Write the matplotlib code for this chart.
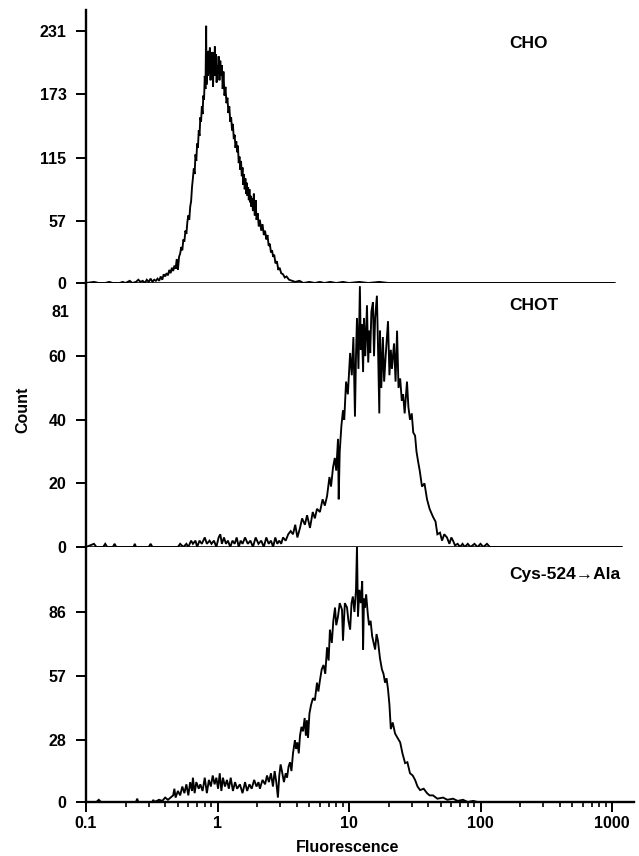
import matplotlib
matplotlib.use("Agg")
import matplotlib.pyplot as plt
from matplotlib.ticker import FixedLocator, FixedFormatter, LogLocator, NullFormatter, NullLocator

plt.rcParams['font.family'] = ['Liberation Sans', 'DejaVu Sans']
plt.rcParams['font.weight'] = 'bold'

# ---------------- data ----------------
panel_labels = ["CHO", "CHOT", "Cys-524\u2192Ala"]

cho_fluor = [0.100, 0.115, 0.125, 0.14, 0.15, 0.16, 0.18, 0.19, 0.20, 0.215, 0.225, 0.24, 0.25, 0.26, 0.27,
             0.28, 0.29, 0.30, 0.31, 0.32, 0.33, 0.34, 0.35, 0.36, 0.37, 0.38, 0.39, 0.40, 0.41, 0.42, 0.43,
             0.44, 0.45, 0.46, 0.47, 0.48, 0.49, 0.50, 0.51, 0.52, 0.53, 0.54, 0.55, 0.56, 0.57, 0.58, 0.59,
             0.60, 0.61, 0.62, 0.63, 0.64, 0.65, 0.66, 0.67, 0.68, 0.69, 0.70, 0.71, 0.72, 0.73, 0.74, 0.75,
             0.76, 0.77, 0.78, 0.79, 0.80, 0.81, 0.82, 0.825, 0.835, 0.845, 0.855, 0.865, 0.875, 0.885, 0.895,
             0.905, 0.915, 0.925, 0.935, 0.945, 0.955, 0.965, 0.975, 0.985, 0.995, 1.01, 1.02, 1.035, 1.05,
             1.065, 1.08, 1.095, 1.11, 1.13, 1.15, 1.17, 1.19, 1.21, 1.23, 1.25, 1.27, 1.29, 1.31, 1.33, 1.35,
             1.37, 1.39, 1.41, 1.43, 1.45, 1.47, 1.49, 1.51, 1.53, 1.55, 1.57, 1.59, 1.61, 1.63, 1.65, 1.67,
             1.69, 1.71, 1.73, 1.75, 1.77, 1.79, 1.81, 1.83, 1.86, 1.89, 1.92, 1.95, 1.98, 2.02, 2.06, 2.10,
             2.15, 2.20, 2.25, 2.30, 2.35, 2.40, 2.45, 2.50, 2.55, 2.60, 2.65, 2.70, 2.76, 2.83, 2.90, 2.97,
             3.05, 3.15, 3.25, 3.35, 3.5, 3.7, 3.9, 4.2, 4.5, 5.0, 5.5, 6.0, 6.5, 7.2, 8.0, 9.0, 10, 12, 14,
             17, 20, 1030]
cho_count = [0, 1, 0, 0, 1, 0, 0, 1, 0, 2, 0, 1, 3, 1, 2,
             0, 3, 1, 4, 1, 3, 2, 4, 2, 6, 3, 8, 6, 9, 7, 12,
             9, 14, 11, 16, 13, 22, 12, 24, 27, 33, 30, 40, 38, 48, 45, 56,
             62, 58, 70, 75, 88, 96, 105, 100, 118, 112, 128, 124, 140, 135, 152, 148,
             162, 155, 172, 168, 190, 178, 236, 182, 205, 190, 213, 192, 216, 186, 208,
             195, 212, 180, 205, 198, 217, 190, 210, 184, 200, 192, 208, 186, 204,
             190, 200, 178, 194, 172, 180, 165, 170, 156, 162, 148, 152, 140, 146, 132, 136,
             124, 130, 120, 126, 110, 116, 104, 112, 98, 106, 90, 100, 86, 96, 82, 92,
             80, 88, 76, 86, 74, 80, 70, 78, 66, 82, 62, 76, 58, 64, 52, 58,
             48, 54, 44, 48, 40, 44, 34, 36, 28, 30, 24, 26, 18, 20, 12, 14,
             9, 8, 5, 6, 3, 2, 1, 2, 0, 1, 0, 1, 0, 1, 0, 1, 0, 1, 0,
             1, 0, 0]

chot_fluor = [0.10, 0.115, 0.12, 0.135, 0.14, 0.145, 0.16, 0.165, 0.17, 0.23, 0.235, 0.24, 0.30, 0.31, 0.32,
              0.50, 0.52, 0.55, 0.58, 0.60, 0.63, 0.65, 0.68, 0.70, 0.73, 0.76, 0.80, 0.83, 0.87, 0.90, 0.94,
              0.98, 1.02, 1.05, 1.08, 1.12, 1.16, 1.20, 1.25, 1.30, 1.35, 1.40, 1.45, 1.50, 1.55, 1.62, 1.70,
              1.78, 1.86, 1.95, 2.05, 2.15, 2.25, 2.35, 2.45, 2.55, 2.65, 2.75, 2.85, 2.95, 3.05, 3.15, 3.30,
              3.45, 3.60, 3.75, 3.90, 4.05, 4.24, 4.40, 4.62, 4.80, 5.05, 5.30, 5.50, 5.71, 6.01, 6.30, 6.55,
              6.81, 7.10, 7.30, 7.56, 7.80, 8.0, 8.25, 8.35, 8.5, 8.75, 9.0, 9.2, 9.5, 9.8, 10.2, 10.5, 10.8,
              11.1, 11.3, 11.5, 11.8, 12.1, 12.3, 12.5, 12.8, 13.0, 13.3, 13.7, 14.0, 14.3, 14.5, 14.8, 15.2,
              15.5, 15.8, 16.3, 16.6, 17.0, 17.2, 17.6, 18.1, 18.5, 19.0, 19.8, 20.3, 20.8, 21.2, 22.0, 22.6,
              23.2, 23.8, 24.5, 25.2, 25.8, 26.5, 27.6, 28.3, 29.1, 30.0, 30.8, 31.8, 32.6, 33.5, 34.5, 35.9,
              37.5, 39.2, 41.0, 43.5, 45.5, 47.0, 49.2, 51.0, 53.0, 55.6, 58.0, 60.0, 61.8, 64.0, 67.0, 70.0,
              73.0, 76.0, 80.0, 84.0, 90.0, 95.0, 100, 105, 112, 118, 1170]
chot_count = [0, 1, 0, 0, 1, 0, 0, 1, 0, 0, 1, 0, 0, 1, 0,
              0, 1, 0, 1, 0, 2, 1, 2, 0, 2, 1, 3, 1, 2, 1, 2,
              0, 3, 4, 1, 3, 1, 2, 0, 2, 1, 3, 0, 2, 1, 3, 1,
              2, 0, 3, 1, 2, 0, 3, 1, 2, 0, 3, 1, 2, 1, 3, 2,
              4, 5, 4, 7, 3, 6, 9, 7, 10, 6, 11, 9, 12, 11, 15, 13,
              16, 22, 19, 25, 28, 24, 34, 15, 30, 38, 43, 40, 52, 48, 61, 54, 66,
              41, 60, 72, 56, 82, 62, 70, 55, 72, 60, 76, 58, 68, 61, 74, 77,
              60, 72, 79, 64, 42, 68, 50, 66, 52, 60, 71, 54, 62, 56, 64, 52,
              68, 50, 53, 46, 48, 42, 52, 44, 40, 42, 36, 35, 30, 27, 24, 19,
              20, 15, 12, 9.5, 8, 4, 4.5, 2, 4, 3, 1, 3, 2, 0.5, 1, 0,
              1, 0, 1, 0, 1, 0, 1, 0, 1, 0, 0]

cys_fluor = [0.100, 0.12, 0.125, 0.13, 0.24, 0.245, 0.25, 0.32, 0.325, 0.33, 0.36, 0.38, 0.40, 0.42, 0.44,
             0.46, 0.47, 0.48, 0.50, 0.52, 0.54, 0.56, 0.58, 0.60, 0.62, 0.64, 0.65, 0.67, 0.69, 0.72, 0.74,
             0.77, 0.80, 0.83, 0.86, 0.89, 0.92, 0.95, 0.98, 1.01, 1.04, 1.07, 1.10, 1.14, 1.18, 1.22, 1.26,
             1.31, 1.36, 1.41, 1.48, 1.55, 1.62, 1.68, 1.75, 1.82, 1.90, 1.98, 2.05, 2.10, 2.2, 2.3, 2.38,
             2.46, 2.55, 2.64, 2.72, 2.80, 2.88, 2.95, 3.02, 3.09, 3.2, 3.3, 3.38, 3.47, 3.56, 3.65, 3.75,
             3.88, 3.96, 4.05, 4.15, 4.24, 4.35, 4.47, 4.6, 4.7, 4.79, 4.88, 5.0, 5.15, 5.32, 5.5, 5.71,
             5.85, 6.01, 6.2, 6.4, 6.6, 6.81, 7.0, 7.16, 7.4, 7.6, 7.83, 8.0, 8.25, 8.5, 8.85, 9.0, 9.3,
             9.66, 9.9, 10.2, 10.45, 10.7, 11.0, 11.3, 11.5, 11.7, 12.0, 12.3, 12.6, 12.8, 13.0, 13.2, 13.5,
             13.9, 14.2, 14.6, 15.0, 15.4, 15.8, 16.2, 16.6, 17.2, 17.8, 18.3, 18.8, 19.3, 19.8, 20.3, 20.8,
             21.5, 22.4, 23.4, 24.5, 25.5, 26.7, 27.8, 29.1, 30.5, 31.8, 33.2, 34.7, 37.0, 39.2, 41.0, 43.5,
             47.0, 51.9, 56.0, 61.8, 67.0, 73.6, 80.0, 88.0, 95.0, 1470]
cys_count = [0, 0, 1, 0, 0, 1.5, 0, 0, 1, 0, 1, 0.5, 2, 1, 2,
             3, 6, 2, 5, 3, 7, 4, 8, 3, 9, 5, 11, 4, 9, 6, 8,
             5, 11, 4, 10, 7, 12, 8, 11, 6, 13, 5, 11, 7, 10, 6, 11,
             5, 9, 6, 8, 4, 9, 5, 8, 6, 10, 7, 9, 6, 10, 8, 12,
             9, 13, 7, 14, 9, 2, 12, 17, 14, 9, 13, 11, 16, 18, 14, 22,
             28, 24, 27, 22, 30, 34, 32, 38, 30, 37, 29, 40, 44, 47, 46, 54,
             50, 55, 60, 62, 58, 70, 64, 78, 72, 82, 88, 80, 84, 90, 87, 73, 90,
             88, 82, 78, 90, 93, 86, 96, 116, 84, 96, 90, 100, 69, 92, 88, 94,
             85, 80, 82, 75, 72, 69, 76, 73, 65, 60, 58, 54, 56, 51, 44, 33,
             36, 31, 29, 27, 22, 17.6, 18, 13, 12, 10, 7, 5.4, 6, 4, 3, 3,
             1.5, 2, 1, 1.5, 0.5, 1, 0, 0.5, 0, 0]

series = [(cho_fluor, cho_count), (chot_fluor, chot_count), (cys_fluor, cys_count)]

y_ticks = [[0, 57, 115, 173, 231], [0, 20, 40, 60], [0, 28, 57, 86]]
y_limits = [250.5, 83.0, 115.4]
x_tick_values = [0.1, 1, 10, 100, 1000]
x_tick_labels = ["0.1", "1", "10", "100", "1000"]

# ---------------- layout ----------------
W, H = 639, 856
fig = plt.figure(figsize=(W / 100, H / 100), dpi=100)

left_px, right_px = 86, 634
panel_px = [(10, 283), (283, 547), (547, 802)]
baseline_end_px = [614, 621, 634]
label_y_px = [43, 306, 575]

fs = 11.5
for i, ((top, bot), (fx, cy)) in enumerate(zip(panel_px, series)):
    ax = fig.add_axes([left_px / W, 1 - bot / H, (right_px - left_px) / W, (bot - top) / H])
    ax.set_xscale('log')
    ax.set_xlim(0.1, 10 ** (-1 + (right_px - left_px) / 131.5))
    ax.set_ylim(0, y_limits[i])
    ax.plot(fx, cy, color='black', lw=1.35, solid_joinstyle='miter')
    for s in ['top', 'right']:
        ax.spines[s].set_visible(False)
    ax.spines['left'].set_linewidth(1.7)
    ax.patch.set_alpha(0)
    ax.set_yticks(y_ticks[i])
    ax.set_yticklabels([str(v) for v in y_ticks[i]])
    ax.tick_params(axis='y', direction='out', length=7, width=1.4, pad=7, labelsize=fs)
    for lab in ax.get_yticklabels():
        lab.set_fontweight('bold')
    if i < 2:
        ax.spines['bottom'].set_visible(False)
        frac = (baseline_end_px[i] - left_px) / (right_px - left_px)
        ax.axhline(0, xmin=0, xmax=frac, color='black', lw=1.9)
        ax.xaxis.set_major_locator(NullLocator())
        ax.xaxis.set_minor_locator(NullLocator())
    else:
        ax.spines['bottom'].set_linewidth(1.7)
        ax.xaxis.set_major_locator(FixedLocator(x_tick_values))
        ax.xaxis.set_major_formatter(FixedFormatter(x_tick_labels))
        ax.xaxis.set_minor_locator(LogLocator(base=10, subs=range(2, 10), numticks=20))
        ax.xaxis.set_minor_formatter(NullFormatter())
        ax.tick_params(axis='x', which='major', direction='out', length=7, width=1.4, pad=3, labelsize=fs)
        ax.tick_params(axis='x', which='minor', direction='out', length=3.5, width=1.2)
        for lab in ax.get_xticklabels():
            lab.set_fontweight('bold')
    if i == 1:
        ax.annotate("81", xy=(0, 81), xycoords=('axes fraction', 'data'),
                    xytext=(-12, -17), textcoords='offset points',
                    ha='right', va='center', fontsize=fs, fontweight='bold')
    fig.text(509 / W, 1 - label_y_px[i] / H, panel_labels[i], ha='left', va='center',
             fontsize=12.5, fontweight='bold')

fig.text(23 / W, 1 - 410 / H, "Count", rotation=90, ha='center', va='center', fontsize=fs, fontweight='bold')
fig.text(348 / W, 1 - 847 / H, "Fluorescence", ha='center', va='center', fontsize=fs, fontweight='bold')

fig.savefig("out.png", dpi=100)
